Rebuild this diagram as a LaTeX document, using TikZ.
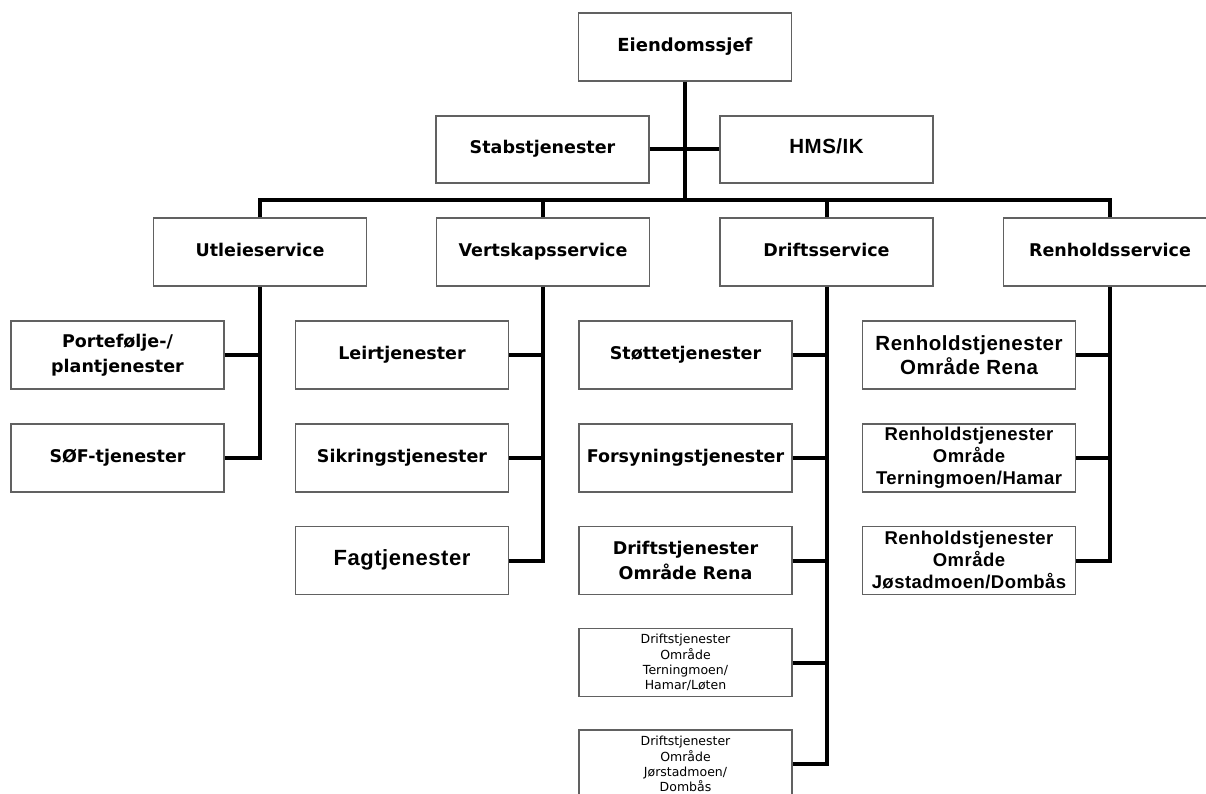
\documentclass[tikz,border=0pt]{standalone}
\usepackage{fontspec}
\setmainfont{DejaVu Sans}
\newfontfamily\arialfont[LetterSpace=2.5]{Liberation Sans}
\begin{document}
\begin{tikzpicture}[x=1pt, y=-1pt,
  box/.style={draw=black!62, line width=1.3pt, fill=white,
    minimum width=213pt, minimum height=68pt, inner sep=1pt, align=center,
    font=\bfseries\fontsize{17.5}{25}\selectfont},
  single/.style={text height=13pt, text depth=4pt},
  boxa/.style={box, font=\arialfont\bfseries\fontsize{20.5}{24}\selectfont},
  boxs/.style={box, font=\arialfont\bfseries\fontsize{18.5}{22}\selectfont},
  boxt/.style={box, font=\fontsize{12.5}{15.3}\selectfont},
  link/.style={line width=4pt, line join=miter}]
\useasboundingbox (0,0) rectangle (1206,794);
\fill[white] (0,0) rectangle (1206,794);

% top
\node[box, single, font=\bfseries\fontsize{18}{25}\selectfont] (eiendom) at (685,47) {Eiendomssjef};
\node[box, single, minimum height=67pt] (stab) at (542.5,149.5) {Stabstjenester};
\node[boxa, single, minimum height=67pt] (hms) at (826.5,149.5) {HMS/IK};
\coordinate (bar) at (685,200);

% services
\node[box, single] (utleie) at (260,252) {Utleieservice};
\node[box, single] (vert) at (543,252) {Vertskapsservice};
\node[box, single] (drift) at (826.5,252) {Driftsservice};
\node[box, single] (renhold) at (1110,252) {Renholdsservice};

% Utleieservice
\node[box] (port) at (117.5,355) {Portefølje-/\\plantjenester};
\node[box, single] (sof) at (117.5,458) {SØF-tjenester};

% Vertskapsservice
\node[box, single] (leir) at (402,355) {Leirtjenester};
\node[box, single] (sikr) at (402,458) {Sikringstjenester};
\node[box, single, font=\arialfont\bfseries\fontsize{22}{25}\selectfont] (fag) at (402,560.5) {Fagtjenester};

% Driftsservice
\node[box, single] (stotte) at (685.5,355) {Støttetjenester};
\node[box, single] (fors) at (685.5,458) {Forsyningstjenester};
\node[box] (drena) at (685.5,560.5) {Driftstjenester\\Område Rena};
\node[boxt] (dtern) at (685.5,662.5) {Driftstjenester\\Område\\Terningmoen/\\Hamar/Løten};
\node[boxt] (djor) at (685.5,764) {Driftstjenester\\Område\\Jørstadmoen/\\Dombås};

% Renholdsservice
\node[boxa] (rrena) at (969,355) {Renholdstjenester\\Område Rena};
\node[boxs] (rtern) at (969,458) {Renholdstjenester\\Område\\Terningmoen/Hamar};
\node[boxs] (rjos) at (969,560.5) {Renholdstjenester\\Område\\Jøstadmoen/Dombås};

% connectors
\draw[link] (eiendom.south) -- (bar);
\draw[link] (stab.east) -- (hms.west);
\draw[link] (utleie.north) |- (bar) -| (renhold.north);
\draw[link] (vert.north) -- (vert.north |- bar);
\draw[link] (drift.north) -- (drift.north |- bar);

\draw[link] (utleie.south) |- (sof.east);
\draw[link] (port.east) -- (port.east -| utleie.south);

\draw[link] (vert.south) |- (fag.east);
\foreach \n in {leir,sikr}
  \draw[link] (\n.east) -- (\n.east -| vert.south);

\draw[link] (drift.south) |- (djor.east);
\foreach \n in {stotte,fors,drena,dtern}
  \draw[link] (\n.east) -- (\n.east -| drift.south);

\draw[link] (renhold.south) |- (rjos.east);
\foreach \n in {rrena,rtern}
  \draw[link] (\n.east) -- (\n.east -| renhold.south);
\end{tikzpicture}
\end{document}
